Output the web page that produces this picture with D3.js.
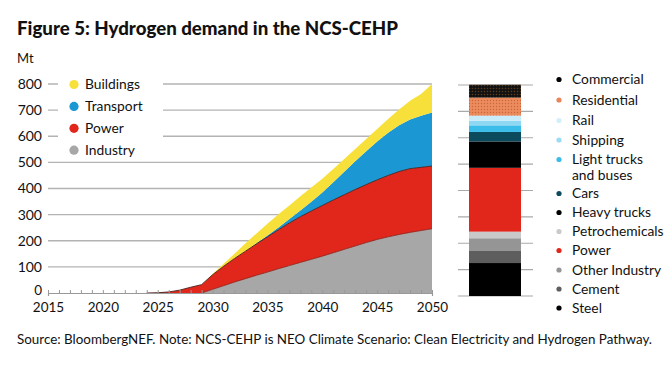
<!DOCTYPE html>
<html><head><meta charset="utf-8">
<script src="https://cdn.jsdelivr.net/npm/d3@7"></script>
<style>
html,body{margin:0;padding:0;background:#fff;}
svg{display:block;font-family:Lato, "Open Sans", sans-serif;}
</style></head>
<body>
<svg id="c" width="671" height="369"></svg>
<script>
const years = [2015,2016,2017,2018,2019,2020,2021,2022,2023,2024,2025,2026,2027,2028,2029,2030,2031,2032,2033,2034,2035,2036,2037,2038,2039,2040,2041,2042,2043,2044,2045,2046,2047,2048,2049,2050];
const xTickLabels = [2015,2020,2025,2030,2035,2040,2045,2050];
const yTickLabels = [0,100,200,300,400,500,600,700,800];
const seriesNames = ["Industry","Power","Transport","Buildings"];
const industry  = [0,0,0,0,0,0,0,0,0,0,0,0,0,0,0, 14,28,42,55,68,80,93,105,117,129,141,154,167,180,193,205,215,224,232,239,246];
const power     = [0,0,0,0,0,0,0,0,0,0, 1,4,11,22,32, 56,74,90,105,120,135,149,163,175,185,194,202,209,216,222,228,235,241,244,242,240];
const transport = [0,0,0,0,0,0,0,0,0,0,0,0,0,0,0,0,0,0,0, 2,5,9,15,24,35,50,68,88,108,128,147,163,177,188,197,205];
const buildings = [0,0,0,0,0,0,0,0,0,0,0,0,0,0,0, 3,10,18,30,38,45,50,52,54,55,52,51,49,47,46,48,53,60,72,84,109];
const seriesColors = ["#a7a7a7","#e1261c","#1b98d3","#f8e03a"];

// 2050 breakdown bar (bottom to top)
const barOrder  = ["Steel","Cement","Other Industry","Petrochemicals","Power","Heavy trucks","Cars","Light trucks and buses","Shipping","Rail","Residential","Commercial"];
const barValues = [125,48,46,25,242,100,36,25,17,20,68,49];
const barColors = ["#000000","#5e5e5e","#959595","#c9c9c9","#e1261c","#000000","#0c4a5d","#3bbde9","#8fd8f4","#c8ecfa","url(#resPat)","url(#comPat)"];
const legendNames = ["Commercial","Residential","Rail","Shipping","Light trucks|and buses","Cars","Heavy trucks","Petrochemicals","Power","Other Industry","Cement","Steel"];
const legendDots  = ["#000000","#e8865a","#d3eff9","#9bdcf4","#3bbde9","#0c4a5d","#000000","#c9c9c9","#e1261c","#959595","#5e5e5e","#000000"];

const svg = d3.select("#c");
const defs = svg.append("defs");
const rp = defs.append("pattern").attr("id","resPat").attr("width",3).attr("height",3).attr("patternUnits","userSpaceOnUse");
rp.append("rect").attr("width",3).attr("height",3).attr("fill","#ec8c5e");
rp.append("circle").attr("cx",1.5).attr("cy",1.5).attr("r",0.7).attr("fill","#c8643a");
const cp = defs.append("pattern").attr("id","comPat").attr("width",3).attr("height",3).attr("patternUnits","userSpaceOnUse");
cp.append("rect").attr("width",3).attr("height",3).attr("fill","#111");
cp.append("circle").attr("cx",1.5).attr("cy",1.5).attr("r",0.8).attr("fill","#5a3a1a");

// Title
svg.append("text").attr("x",17).attr("y",35).attr("font-size",18).attr("font-weight",900).attr("fill","#111")
  .attr("textLength",381).attr("lengthAdjust","spacingAndGlyphs")
  .text("Figure 5: Hydrogen demand in the NCS-CEHP");
svg.append("text").attr("x",17).attr("y",63).attr("font-size",13).attr("fill","#111").text("Mt");

const x = d3.scaleLinear().domain([2015,2050]).range([48,432]);
const y = d3.scaleLinear().domain([0,800]).range([293,84]);

// gridlines
svg.append("g").selectAll("line").data(yTickLabels.filter(d=>d>0)).join("line")
  .attr("x1",48).attr("x2",432).attr("y1",d=>y(d)).attr("y2",d=>y(d))
  .attr("stroke","#b3b3b3").attr("stroke-width",1.3);
svg.append("g").selectAll("text").data(yTickLabels).join("text")
  .attr("x",42).attr("y",d=>y(d)).attr("dy",d=>d===0?"0.12em":"0.35em").attr("text-anchor","end")
  .attr("font-size",d=>d===0?13.5:14).attr("fill","#111").text(d=>d);

// stacked areas
const table = years.map((yr,i)=>({year:yr, Industry:industry[i], Power:power[i], Transport:transport[i], Buildings:buildings[i]}));
const stack = d3.stack().keys(seriesNames)(table);
const area = d3.area().x(d=>x(d.data.year)).y0(d=>y(d[0])).y1(d=>y(d[1]));
svg.append("g").selectAll("path").data(stack).join("path")
  .attr("d",area).attr("fill",(d,i)=>seriesColors[i]);
const line = d3.line().x(d=>x(d.data.year)).y(d=>y(d[1]));
svg.append("path").datum(stack[0].filter(d=>d.data.year>=2029)).attr("d",line).attr("fill","none").attr("stroke","#8a1c12").attr("stroke-width",0.8);
svg.append("path").datum(stack[1].filter(d=>d.data.year>=2024)).attr("d",line).attr("fill","none").attr("stroke","#4a1f1a").attr("stroke-width",0.9);

// x axis
const xAxis = d3.axisBottom(x).tickValues(years).tickSize(3).tickFormat(d=>xTickLabels.includes(d)?d:"");
const gx = svg.append("g").attr("transform","translate(0,293)").call(xAxis);
gx.select(".domain").attr("stroke","#999").attr("stroke-width",1.2);
gx.selectAll(".tick line").attr("stroke","#999").attr("y1",-3).attr("y2",1);
gx.selectAll(".tick text").attr("font-size",13.5).attr("fill","#111").attr("font-family","Lato").attr("dy",0).attr("y",19);

// legend
svg.append("rect").attr("x",58).attr("y",73).attr("width",105).attr("height",88).attr("fill","#fff");
const legOrder = [3,2,1,0];
const lg = svg.append("g").selectAll("g").data(legOrder).join("g")
  .attr("transform",(d,i)=>`translate(74,${84.5+i*21.9})`);
lg.append("circle").attr("r",4.6).attr("fill",d=>seriesColors[d]);
lg.append("text").attr("x",11).attr("dy","0.35em").attr("font-size",13.8).attr("fill","#111").text(d=>seriesNames[d]);

// 2050 bar
const yb = d3.scaleLinear().domain([0,800]).range([296,85]);
svg.append("g").selectAll("line").data(yTickLabels).join("line")
  .attr("x1",458).attr("x2",533).attr("y1",d=>yb(d)).attr("y2",d=>yb(d))
  .attr("stroke","#aaa").attr("stroke-width",1.2);
let cum = 0;
const segs = barOrder.map((n,i)=>{const s={name:n,y0:cum,y1:cum+barValues[i],color:barColors[i]};cum+=barValues[i];return s;});
const xb = d3.scaleBand().domain(["2050"]).range([469,521]);
svg.append("g").selectAll("rect").data(segs).join("rect")
  .attr("x",xb("2050")).attr("width",xb.bandwidth())
  .attr("y",d=>yb(d.y1)).attr("height",d=>yb(d.y0)-yb(d.y1)).attr("fill",d=>d.color);

// right legend
const rowsY = [79.5,100,120.5,140,159.5,193.5,212.5,231.5,250.5,270,289,308];
const rl = svg.append("g").selectAll("g").data(legendNames).join("g")
  .attr("transform",(d,i)=>`translate(559,${rowsY[i]})`);
rl.append("circle").attr("r",2.6).attr("fill",(d,i)=>legendDots[i]);
rl.append("text").attr("x",13).attr("font-size",13.8).attr("fill","#111")
  .each(function(d){const parts=d.split("|");const t=d3.select(this);
    parts.forEach((p,k)=>t.append("tspan").attr("x",13).attr("dy",k===0?"0.35em":"1.12em").text(p));});

// source
svg.append("text").attr("x",17).attr("y",344).attr("font-size",13).attr("fill","#111")
  .attr("textLength",635).attr("lengthAdjust","spacingAndGlyphs")
  .text("Source: BloombergNEF. Note: NCS-CEHP is NEO Climate Scenario: Clean Electricity and Hydrogen Pathway.");
</script>
</body></html>
